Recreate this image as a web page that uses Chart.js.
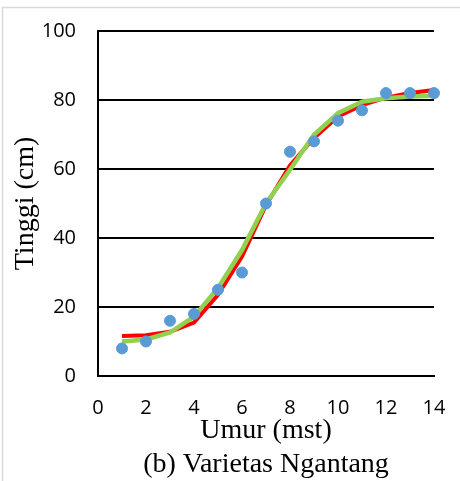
<!DOCTYPE html>
<html>
<head>
<meta charset="utf-8">
<script src="https://cdn.jsdelivr.net/npm/chart.js@4/dist/chart.umd.min.js"></script>
<style>
	html, body { margin: 0; padding: 0; background: #fff; }
	#wrap { width: 460px; height: 481px; }
</style>
</head>
<body>
<div id="wrap"><canvas id="growth"></canvas></div>
<script>
// Umur tanaman (minggu setelah tanam) dan tinggi tanaman (cm)
const weeks = [1, 2, 3, 4, 5, 6, 7, 8, 9, 10, 11, 12, 13, 14];
const observed = [8, 10, 16, 18, 25, 30, 50, 65, 68, 74, 77, 82, 82, 82];
const modelRed = [11.6, 11.8, 12.8, 15.5, 23.5, 34.6, 49.5, 61, 69, 75.2, 78.5, 80.7, 82, 82.9];
const modelGreen = [10, 10.6, 12.6, 17.2, 25.5, 36.5, 50, 59.8, 69.9, 76.2, 79.5, 80.5, 81, 81.2];

const xTicks = [0, 2, 4, 6, 8, 10, 12, 14];
const yTicks = [0, 20, 40, 60, 80, 100];

function toPoints(values) {
	return weeks.map((w, i) => ({ x: w, y: values[i] }));
}

// light frame around the figure
const framePlugin = {
	id: 'frame',
	beforeDraw(chart) {
		const c = chart.ctx;
		c.save();
		c.fillStyle = '#fff';
		c.fillRect(0, 0, chart.width, chart.height);
		c.strokeStyle = '#d9d9d9';
		c.lineWidth = 1.5;
		c.beginPath();
		c.moveTo(2.5, chart.height);
		c.lineTo(2.5, 7.5);
		c.lineTo(chart.width, 7.5);
		c.stroke();
		c.restore();
	}
};

const tickFont = { family: '"Open Sans", sans-serif', size: 20 };
const serifFont = { family: '"Liberation Serif", "Times New Roman", serif', size: 28, weight: 'normal' };

new Chart(document.getElementById('growth').getContext('2d'), {
	type: 'scatter',
	data: {
		datasets: [
			{
				label: 'Pengamatan',
				data: toPoints(observed),
				backgroundColor: '#5B9BD5',
				borderColor: '#5B9BD5',
				pointRadius: 5.5,
				clip: false,
				order: 0
			},
			{
				type: 'line',
				label: 'Model 2',
				data: toPoints(modelGreen),
				borderColor: '#92D050',
				borderWidth: 4.5,
				pointRadius: 0,
				tension: 0,
				fill: false,
				clip: false,
				order: 1
			},
			{
				type: 'line',
				label: 'Model 1',
				data: toPoints(modelRed),
				borderColor: '#FF0000',
				borderWidth: 4,
				pointRadius: 0,
				tension: 0,
				fill: false,
				clip: false,
				order: 2
			}
		]
	},
	options: {
		responsive: true,
		maintainAspectRatio: false,
		animation: false,
		layout: { padding: { left: 2, top: 31, right: 26, bottom: 0 } },
		plugins: {
			legend: { display: false },
			tooltip: { enabled: false },
			title: {
				display: true,
				position: 'bottom',
				fullSize: false,
				text: '(b) Varietas Ngantang',
				color: '#000',
				font: serifFont,
				padding: { top: 0, bottom: 0 }
			}
		},
		scales: {
			x: {
				type: 'linear',
				min: 0,
				max: 14,
				afterBuildTicks: (scale) => { scale.ticks = xTicks.map(v => ({ value: v })); },
				afterFit: (scale) => {
					scale.height = 71.4;
					scale.paddingLeft = 0;
					scale.paddingRight = 0;
				},
				grid: { display: false, drawTicks: false },
				border: { display: true, color: '#000', width: 2 },
				ticks: { color: '#000', font: tickFont, padding: 20, maxRotation: 0 },
				title: {
					display: true,
					text: 'Umur (mst)',
					color: '#000',
					font: serifFont,
					padding: { top: 0, bottom: 0 }
				}
			},
			y: {
				min: 0,
				max: 100,
				afterBuildTicks: (scale) => { scale.ticks = yTicks.map(v => ({ value: v })); },
				afterFit: (scale) => {
					scale.width = 96;
					scale.paddingTop = 0;
					scale.paddingBottom = 0;
				},
				grid: { color: '#000', lineWidth: 2, drawTicks: false },
				border: { display: true, color: '#000', width: 2 },
				ticks: { color: '#000', font: tickFont, padding: 22 },
				title: {
					display: true,
					text: 'Tinggi (cm)',
					color: '#000',
					font: serifFont,
					padding: { top: 7, bottom: 0 }
				}
			}
		}
	},
	plugins: [framePlugin]
});
</script>
</body>
</html>
